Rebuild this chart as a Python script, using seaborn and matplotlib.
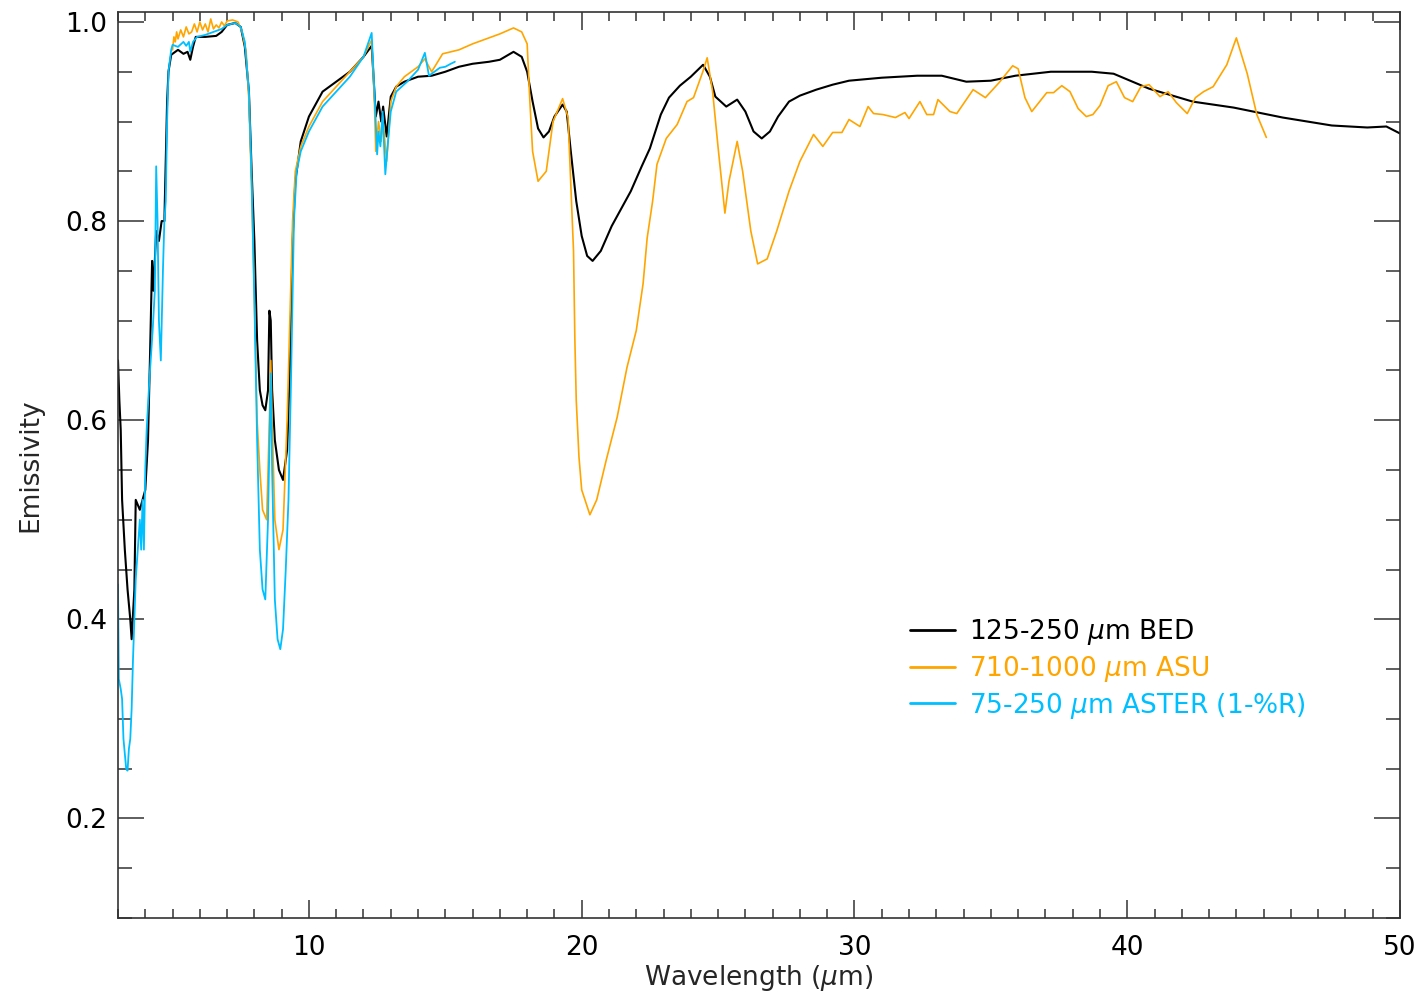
import numpy as np
import pandas as pd
import matplotlib
matplotlib.use("Agg")
import matplotlib.pyplot as plt
import seaborn as sns
from matplotlib.ticker import MultipleLocator, FormatStrFormatter
from matplotlib.lines import Line2D

sns.set_theme(style="white")
plt.rcParams["font.family"] = ["DejaVu Sans"]
plt.rcParams["mathtext.fontset"] = "dejavusans"

# ---------------- data ----------------
labels = ["125-250 $\\mu$m BED", "710-1000 $\\mu$m ASU", "75-250 $\\mu$m ASTER (1-%R)"]
colors = ["#000000", "#FFA500", "#00BFFF"]

wl_bed = [3.0, 3.05, 3.1, 3.15, 3.25, 3.35, 3.45, 3.5, 3.6, 3.65, 3.8, 3.9, 4.0, 4.1, 4.17,
          4.25, 4.3, 4.4, 4.5, 4.6, 4.7, 4.8, 4.85, 4.95, 5.0, 5.2, 5.4, 5.55, 5.65, 5.75,
          5.85, 6.2, 6.6, 6.8, 7.0, 7.3, 7.5, 7.65, 7.8, 7.9, 8.0, 8.1, 8.2, 8.3, 8.4, 8.5,
          8.55, 8.6, 8.65, 8.75, 8.9, 9.05, 9.2, 9.3, 9.4, 9.5, 9.7, 10.0, 10.5, 11.0, 11.5,
          12.0, 12.3, 12.4, 12.45, 12.55, 12.65, 12.72, 12.85, 13.0, 13.2, 13.5, 14.0, 14.5,
          15.0, 15.5, 16.0, 16.6, 17.0, 17.5, 17.8, 18.0, 18.2, 18.4, 18.6, 18.8, 19.0, 19.3,
          19.45, 19.6, 19.8, 20.0, 20.2, 20.4, 20.7, 21.1, 21.5, 21.8, 22.2, 22.5, 22.9, 23.2,
          23.6, 24.0, 24.45, 24.7, 24.9, 25.3, 25.7, 26.0, 26.3, 26.6, 26.9, 27.2, 27.6, 28.0,
          28.6, 29.2, 29.8, 31.0, 32.3, 33.2, 34.1, 35.0, 35.9, 37.2, 38.7, 39.5, 40.8, 42.4,
          43.9, 45.7, 47.5, 48.8, 49.5, 50.0]
em_bed = [0.66, 0.62, 0.59, 0.52, 0.47, 0.43, 0.40, 0.38, 0.43, 0.52, 0.51, 0.52, 0.53, 0.58, 0.66,
          0.76, 0.73, 0.79, 0.78, 0.80, 0.80, 0.92, 0.95, 0.967, 0.968, 0.972, 0.968, 0.970, 0.962, 0.975,
          0.985, 0.985, 0.986, 0.990, 0.997, 0.999, 0.995, 0.975, 0.93, 0.85, 0.78, 0.68, 0.63, 0.615, 0.61, 0.63,
          0.71, 0.70, 0.63, 0.58, 0.55, 0.54, 0.57, 0.65, 0.78, 0.84, 0.88, 0.905, 0.93, 0.94, 0.95,
          0.965, 0.976, 0.93, 0.905, 0.92, 0.90, 0.915, 0.885, 0.925, 0.935, 0.94, 0.945, 0.946,
          0.95, 0.955, 0.958, 0.96, 0.962, 0.97, 0.965, 0.95, 0.92, 0.893, 0.884, 0.89, 0.905, 0.917,
          0.91, 0.87, 0.82, 0.785, 0.765, 0.76, 0.77, 0.795, 0.815, 0.83, 0.855, 0.873, 0.907, 0.924,
          0.936, 0.945, 0.957, 0.945, 0.925, 0.915, 0.922, 0.91, 0.89, 0.883, 0.89, 0.905, 0.92, 0.926,
          0.932, 0.937, 0.941, 0.944, 0.946, 0.946, 0.94, 0.941, 0.946, 0.95, 0.95, 0.948, 0.933, 0.92,
          0.914, 0.904, 0.896, 0.894, 0.895, 0.888]

wl_asu = [5.0, 5.05, 5.1, 5.15, 5.2, 5.3, 5.4, 5.5, 5.6, 5.7, 5.8, 5.9, 6.0, 6.1, 6.2, 6.3, 6.4,
          6.5, 6.6, 6.7, 6.8, 6.9, 7.0, 7.2, 7.4, 7.55, 7.7, 7.8, 7.9, 8.0, 8.1, 8.2, 8.3, 8.45,
          8.55, 8.6, 8.65, 8.75, 8.9, 9.05, 9.2, 9.3, 9.4, 9.5, 9.7, 10.0, 10.5, 11.0, 11.5, 12.0,
          12.3, 12.4, 12.45, 12.55, 12.65, 12.72, 12.85, 13.0, 13.2, 13.5, 14.0, 14.25, 14.4, 14.5,
          14.9, 15.5, 16.0, 16.5, 17.0, 17.5, 17.8, 18.0, 18.1, 18.2, 18.4, 18.7, 18.95, 19.3, 19.5,
          19.7, 19.75, 19.8, 19.9, 20.0, 20.3, 20.55, 20.9, 21.3, 21.66, 22.0, 22.25, 22.4, 22.6,
          22.76, 23.1, 23.5, 23.86, 24.1, 24.44, 24.6, 24.8, 25.0, 25.25, 25.4, 25.7, 25.9, 26.2,
          26.45, 26.8, 27.15, 27.6, 28.0, 28.5, 28.84, 29.2, 29.54, 29.8, 30.2, 30.5, 30.7, 31.04,
          31.5, 31.85, 32.0, 32.4, 32.65, 32.9, 33.06, 33.5, 33.75, 34.35, 34.8, 35.3, 35.8, 36.0,
          36.25, 36.5, 37.05, 37.3, 37.6, 37.9, 38.2, 38.5, 38.74, 39.0, 39.3, 39.6, 39.9, 40.2,
          40.5, 40.8, 41.2, 41.5, 41.8, 42.2, 42.5, 42.8, 43.15, 43.65, 44.0, 44.4, 44.75, 45.1]
em_asu = [0.972, 0.985, 0.98, 0.99, 0.983, 0.992, 0.985, 0.995, 0.988, 0.99, 0.998, 0.99, 1.0, 0.992, 0.998, 0.99, 1.003,
          0.993, 0.997, 0.994, 1.0, 0.996, 1.001, 1.002, 1.0, 0.99, 0.97, 0.92, 0.83, 0.72, 0.60, 0.55, 0.51, 0.50,
          0.60, 0.66, 0.60, 0.50, 0.47, 0.49, 0.60, 0.70, 0.80, 0.85, 0.875, 0.895, 0.92, 0.935, 0.95, 0.965,
          0.982, 0.92, 0.87, 0.90, 0.88, 0.90, 0.86, 0.92, 0.935, 0.945, 0.955, 0.963, 0.955, 0.95,
          0.968, 0.972, 0.978, 0.983, 0.988, 0.994, 0.99, 0.978, 0.92, 0.87, 0.84, 0.85, 0.90, 0.923, 0.904,
          0.77, 0.68, 0.62, 0.563, 0.53, 0.505, 0.52, 0.56, 0.603, 0.653, 0.69, 0.737, 0.783, 0.82,
          0.857, 0.883, 0.897, 0.92, 0.924, 0.95, 0.964, 0.93, 0.874, 0.808, 0.84, 0.88, 0.85, 0.79,
          0.757, 0.762, 0.79, 0.83, 0.86, 0.887, 0.875, 0.889, 0.889, 0.902, 0.895, 0.915, 0.908, 0.907,
          0.904, 0.909, 0.903, 0.92, 0.907, 0.907, 0.922, 0.91, 0.908, 0.932, 0.924, 0.939, 0.956, 0.953,
          0.924, 0.91, 0.929, 0.929, 0.936, 0.93, 0.913, 0.905, 0.907, 0.916, 0.936, 0.94, 0.924, 0.92,
          0.935, 0.937, 0.925, 0.93, 0.919, 0.908, 0.924, 0.93, 0.935, 0.957, 0.984, 0.948, 0.907, 0.884]

wl_aster = [3.0, 3.03, 3.1, 3.15, 3.2, 3.3, 3.35, 3.4, 3.45, 3.5, 3.55, 3.65, 3.75, 3.8, 3.85,
            3.9, 3.95, 4.0, 4.05, 4.15, 4.27, 4.35, 4.4, 4.45, 4.5, 4.57, 4.65, 4.7, 4.75, 4.8,
            4.85, 4.95, 5.0, 5.2, 5.4, 5.5, 5.6, 5.65, 5.75, 5.9, 6.2, 6.5, 6.8, 7.0, 7.3, 7.5,
            7.65, 7.8, 7.9, 8.0, 8.1, 8.2, 8.3, 8.4, 8.5, 8.6, 8.65, 8.75, 8.85, 8.95, 9.05, 9.15,
            9.25, 9.35, 9.45, 9.55, 9.7, 10.0, 10.5, 11.0, 11.5, 12.0, 12.3, 12.4, 12.5, 12.55,
            12.62, 12.7, 12.8, 12.9, 13.0, 13.2, 13.6, 14.0, 14.25, 14.4, 14.8, 15.0, 15.2, 15.35]
em_aster = [0.435, 0.34, 0.33, 0.32, 0.28, 0.25, 0.248, 0.27, 0.28, 0.31, 0.36, 0.44, 0.48, 0.50, 0.47,
            0.52, 0.47, 0.55, 0.59, 0.64, 0.69, 0.73, 0.855, 0.80, 0.70, 0.66, 0.753, 0.80, 0.82, 0.90,
            0.95, 0.972, 0.977, 0.975, 0.98, 0.976, 0.98, 0.97, 0.98, 0.985, 0.987, 0.99, 0.993, 0.997, 0.999, 0.995,
            0.98, 0.93, 0.84, 0.72, 0.58, 0.47, 0.43, 0.42, 0.50, 0.647, 0.55, 0.42, 0.38, 0.37, 0.39, 0.45,
            0.52, 0.65, 0.80, 0.85, 0.87, 0.89, 0.915, 0.93, 0.945, 0.965, 0.989, 0.93, 0.867, 0.89,
            0.875, 0.91, 0.847, 0.88, 0.91, 0.93, 0.94, 0.952, 0.969, 0.946, 0.954, 0.955, 0.958, 0.96]

x_major_ticks = [10, 20, 30, 40, 50]
y_major_ticks = [0.2, 0.4, 0.6, 0.8, 1.0]

# ---------------- figure ----------------
fig = plt.figure(figsize=(14.22, 9.97), dpi=100)
ax = fig.add_axes([118 / 1422, 1 - 918 / 997, (1400 - 118) / 1422, (918 - 12) / 997])

series = [(wl_bed, em_bed, 1.5), (wl_asu, em_asu, 1.2), (wl_aster, em_aster, 1.3)]
for (wl, em, lw), lab, col in zip(series, labels, colors):
    d = pd.DataFrame({"Wavelength": wl, "Emissivity": em})
    sns.lineplot(data=d, x="Wavelength", y="Emissivity", ax=ax, color=col, linewidth=lw,
                 sort=False, estimator=None, label=lab)

ax.set_xlim(3, 50)
ax.set_ylim(0.1, 1.01)
ax.set_xticks(x_major_ticks)
ax.set_yticks(y_major_ticks)
ax.xaxis.set_minor_locator(MultipleLocator(1))
ax.yaxis.set_minor_locator(MultipleLocator(0.05))
ax.yaxis.set_major_formatter(FormatStrFormatter("%.1f"))

edge = "#333333"
for s in ax.spines.values():
    s.set_visible(True)
    s.set_color(edge)
    s.set_linewidth(1.2)

ax.tick_params(axis="x", which="major", direction="in", length=13, width=1.1, color=edge,
               top=True, bottom=True, labelsize=19, pad=12, labelcolor="black")
ax.tick_params(axis="x", which="minor", direction="in", length=6.5, width=1.1, color=edge,
               top=True, bottom=True)
ax.tick_params(axis="y", which="major", direction="in", length=19, width=1.1, color=edge,
               left=True, right=True, labelsize=19, pad=8, labelcolor="black")
ax.tick_params(axis="y", which="minor", direction="in", length=10, width=1.1, color=edge,
               left=True, right=True)

ax.set_xlabel("Wavelength ($\\mu$m)", fontsize=19)
ax.set_ylabel("Emissivity", fontsize=19)
ax.xaxis.set_label_coords(0.5, -0.05)
ax.yaxis.set_label_coords(-0.058, 0.5)

handles = [Line2D([], [], color=c, linewidth=2.0) for c in colors]
ax.legend(handles, labels, loc="center left", bbox_to_anchor=((910 - 118) / 1282, (918 - 669) / 906),
          frameon=False, fontsize=19, handlelength=1.7, handletextpad=0.55, labelspacing=0.25,
          borderpad=0, borderaxespad=0, labelcolor=colors)

fig.savefig("out.png", dpi=100)
